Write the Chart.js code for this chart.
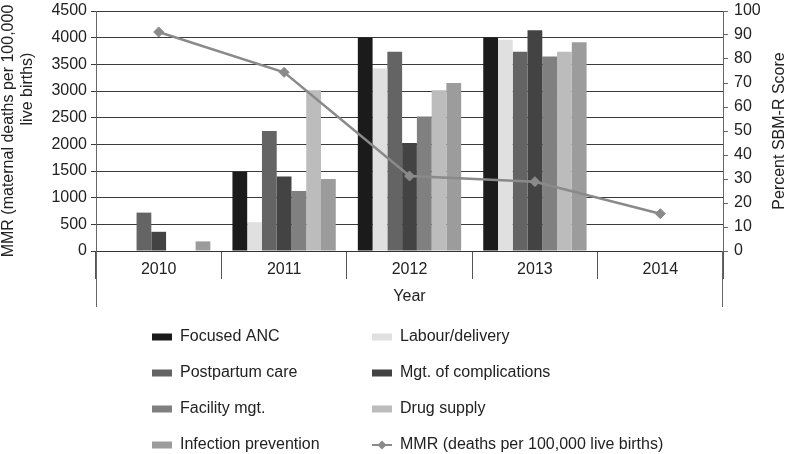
<!DOCTYPE html>
<html><head><meta charset="utf-8">
<script src="https://cdn.jsdelivr.net/npm/chart.js@4.4.1/dist/chart.umd.min.js"></script>
<style>html,body{margin:0;padding:0;background:#fff;}#wrap{width:789px;height:454px;position:relative;}</style>
</head><body><div id="wrap"><canvas id="c" width="789" height="454"></canvas></div>
<script>
// ---- data ----
const years = ['2010', '2011', '2012', '2013', '2014'];
const focusedANC = [null, 33, 89, 89, null];
const labourDelivery = [null, 12, 76, 88, null];
const postpartumCare = [16, 50, 83, 83, null];
const mgtComplications = [8, 31, 45, 92, null];
const facilityMgt = [null, 25, 56, 81, null];
const drugSupply = [null, 67, 67, 83, null];
const infectionPrevention = [4, 30, 70, 87, null];
const mmr = [4106, 3350, 1406, 1300, 700];
const leftTitle = ['MMR (maternal deaths per 100,000', 'live births)'];
const rightTitle = 'Percent SBM-R Score';
const xTitle = 'Year';

const FONT = '"Liberation Sans", Arial, Helvetica, sans-serif';
const TXT = '#222';

function bar(label, data, color) {
  return { type: 'bar', label, data, backgroundColor: color, borderWidth: 0, yAxisID: 'y1', order: 2,
           barPercentage: 1.0, categoryPercentage: 0.824 };
}

const datasets = [
  bar('Focused ANC', focusedANC, '#1b1b1b'),
  bar('Labour/delivery', labourDelivery, '#e0e0e0'),
  bar('Postpartum care', postpartumCare, '#646464'),
  bar('Mgt. of complications', mgtComplications, '#434343'),
  bar('Facility mgt.', facilityMgt, '#808080'),
  bar('Drug supply', drugSupply, '#bcbcbc'),
  bar('Infection prevention', infectionPrevention, '#9c9c9c'),
  { type: 'line', label: 'MMR (deaths per 100,000 live births)', data: mmr, yAxisID: 'y', order: 1,
    borderColor: '#8a8a8a', backgroundColor: '#8a8a8a', borderWidth: 2.5, tension: 0,
    pointStyle: 'rectRot', pointRadius: 5, pointBorderWidth: 1, pointBackgroundColor: '#8a8a8a', pointBorderColor: '#8a8a8a' }
];

const decor = {
  id: 'decor',
  afterDraw(chart) {
    const { ctx, chartArea: a } = chart;
    ctx.save();
    ctx.strokeStyle = '#666'; ctx.lineWidth = 1;
    ctx.beginPath();
    const lx = Math.round(a.left) + 0.5, rx = Math.round(a.right) - 0.5;
    ctx.moveTo(lx, a.bottom); ctx.lineTo(lx, 307);
    ctx.moveTo(rx, a.bottom); ctx.lineTo(rx, 307);
    ctx.stroke();

    ctx.fillStyle = TXT; ctx.font = '16px ' + FONT; ctx.textAlign = 'center'; ctx.textBaseline = 'middle';
    const cy = (a.top + a.bottom) / 2;
    ctx.save(); ctx.translate(9, cy); ctx.rotate(-Math.PI / 2); ctx.fillText(leftTitle[0], 0, 0); ctx.restore();
    ctx.save(); ctx.translate(28, 89); ctx.rotate(-Math.PI / 2); ctx.fillText(leftTitle[1], 0, 0); ctx.restore();
    ctx.save(); ctx.translate(780, cy); ctx.rotate(-Math.PI / 2); ctx.fillText(rightTitle, 0, 0); ctx.restore();

    const colX = [152, 372];
    ctx.textAlign = 'left';
    chart.data.datasets.forEach((ds, i) => {
      const col = i % 2, row = Math.floor(i / 2);
      const bx = colX[col], y = 337 + row * 36;
      if (ds.type === 'line') {
        ctx.strokeStyle = ds.borderColor; ctx.lineWidth = 2;
        ctx.beginPath(); ctx.moveTo(bx, y); ctx.lineTo(bx + 20, y); ctx.stroke();
        ctx.fillStyle = ds.borderColor;
        ctx.beginPath(); ctx.moveTo(bx + 5.5, y); ctx.lineTo(bx + 10, y - 4.5); ctx.lineTo(bx + 14.5, y); ctx.lineTo(bx + 10, y + 4.5); ctx.closePath(); ctx.fill();
      } else {
        ctx.fillStyle = ds.backgroundColor;
        ctx.fillRect(bx, y - 3.5, 20, 7);
      }
      ctx.fillStyle = TXT;
      ctx.fillText(ds.label, bx + 28, y);
    });
    ctx.restore();
  }
};

function noPad(s) { s.paddingTop = 0; s.paddingBottom = 0; }

new Chart(document.getElementById('c'), {
  data: { labels: years, datasets },
  options: {
    responsive: false, animation: false, devicePixelRatio: 1,
    layout: { padding: { top: 11, left: 0, right: 0, bottom: 0 } },
    plugins: { legend: { display: false }, tooltip: { enabled: false } },
    scales: {
      x: {
        offset: true,
        grid: { offset: true, drawOnChartArea: false, tickLength: 28, color: '#555', lineWidth: 1 },
        border: { display: true, color: '#333' },
        ticks: { font: { family: FONT, size: 16 }, color: TXT, padding: -19, maxRotation: 0 },
        title: { display: true, text: xTitle, font: { family: FONT, size: 16 }, color: TXT, padding: { top: 0, bottom: 148 } },
        afterFit(s) { s.height = 203; s.paddingLeft = 0; s.paddingRight = 0; }
      },
      y: {
        position: 'left', min: 0, max: 4500,
        ticks: { stepSize: 500, font: { family: FONT, size: 16 }, color: TXT, padding: 4, callback: v => String(v) },
        grid: { color: '#3a3a3a', lineWidth: 1, tickLength: 5 },
        border: { display: true, color: '#666' },
        afterFit(s) { s.width = 96; noPad(s); }
      },
      y1: {
        position: 'right', min: 0, max: 100,
        ticks: { stepSize: 10, font: { family: FONT, size: 16 }, color: TXT, padding: 6, callback: v => String(v) },
        grid: { drawOnChartArea: false, color: '#666', tickLength: 5 },
        border: { display: true, color: '#666' },
        afterFit(s) { s.width = 66; noPad(s); }
      }
    }
  },
  plugins: [decor]
});
</script></body></html>
